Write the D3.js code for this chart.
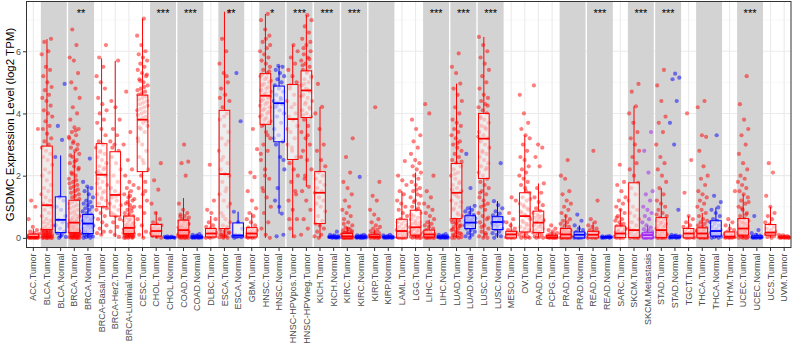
<!DOCTYPE html>
<html>
<head>
<meta charset="utf-8">
<script src="https://cdn.jsdelivr.net/npm/d3@7"></script>
<style>
  body { margin: 0; background: #fff; }
  text { font-family: "Liberation Sans", Arial, sans-serif; }
</style>
</head>
<body>
<script>
// Categories (x axis)
const categories = [
  "ACC.Tumor", "BLCA.Tumor", "BLCA.Normal", "BRCA.Tumor", "BRCA.Normal",
  "BRCA-Basal.Tumor", "BRCA-Her2.Tumor", "BRCA-Luminal.Tumor", "CESC.Tumor",
  "CHOL.Tumor", "CHOL.Normal", "COAD.Tumor", "COAD.Normal", "DLBC.Tumor",
  "ESCA.Tumor", "ESCA.Normal", "GBM.Tumor", "HNSC.Tumor", "HNSC.Normal",
  "HNSC-HPVpos.Tumor", "HNSC-HPVneg.Tumor", "KICH.Tumor", "KICH.Normal",
  "KIRC.Tumor", "KIRC.Normal", "KIRP.Tumor", "KIRP.Normal", "LAML.Tumor",
  "LGG.Tumor", "LIHC.Tumor", "LIHC.Normal", "LUAD.Tumor", "LUAD.Normal",
  "LUSC.Tumor", "LUSC.Normal", "MESO.Tumor", "OV.Tumor", "PAAD.Tumor",
  "PCPG.Tumor", "PRAD.Tumor", "PRAD.Normal", "READ.Tumor", "READ.Normal",
  "SARC.Tumor", "SKCM.Tumor", "SKCM.Metastasis", "STAD.Tumor", "STAD.Normal",
  "TGCT.Tumor", "THCA.Tumor", "THCA.Normal", "THYM.Tumor", "UCEC.Tumor",
  "UCEC.Normal", "UCS.Tumor", "UVM.Tumor"
];

// Box statistics (log2 TPM)
const whiskerLow = [0,0,0,0,0,0.1,0.03,0,0,0,0,0,0,0,0,0,0,0,0.78,0,1.64,0,0,0,0,0,0,0,0,0,0,0,0,0,0,0,0,0,0,0,0,0,0,0,0,0,0,0,0,0,0,0,0,0,0,0];
const q1 = [0.01,0.27,0.17,0.17,0.14,1.0,0.70,0.14,2.13,0.06,0,0.09,0,0.03,0.30,0.03,0.03,3.65,3.09,2.52,3.87,0.46,0,0,0,0.01,0,0,0.09,0.03,0,0.62,0.30,1.91,0.27,0,0.19,0.17,0,0,0,0,0,0.01,0.01,0,0.01,0,0,0,0.06,0,0.09,0,0.09,0];
const medians = [0.03,1.05,0.58,0.49,0.46,2.03,1.38,0.32,3.80,0.22,0.01,0.25,0.02,0.14,2.05,0.08,0.14,4.57,4.33,3.82,4.74,1.45,0.02,0.05,0.02,0.04,0.02,0.22,0.34,0.11,0.02,1.45,0.49,3.19,0.51,0.11,0.70,0.49,0.02,0.11,0.10,0.10,0.02,0.14,0.25,0.09,0.25,0.02,0.14,0.14,0.22,0.04,0.30,0.02,0.17,0.02];
const q3 = [0.12,2.95,1.32,1.21,0.75,3.03,2.77,0.70,4.59,0.43,0.03,0.57,0.05,0.30,4.10,0.48,0.33,5.28,4.88,4.93,5.37,2.13,0.05,0.14,0.05,0.10,0.05,0.60,0.89,0.25,0.05,2.39,0.71,4.00,0.68,0.21,1.45,0.86,0.08,0.30,0.19,0.21,0.04,0.38,1.77,0.16,0.65,0.06,0.30,0.32,0.55,0.19,0.62,0.06,0.43,0.05];
const whiskerHigh = [0.28,6.39,2.65,2.77,1.64,5.77,5.69,1.5,7.05,0.84,0.05,1.28,0.12,0.7,7.27,0.84,0.8,7.2,5.53,6.2,7.16,4.21,0.1,0.35,0.1,0.25,0.1,1.5,2.1,0.58,0.12,4.96,1.03,6.46,1.18,0.5,3.3,1.75,0.2,0.75,0.4,0.5,0.06,0.93,4.23,0.4,1.6,0.12,0.7,0.8,0.98,0.45,1.4,0.15,1.0,0.1];

// Sample points per category
const pointValues = [
  [0,0,0,0,0,0.01,0.01,0.01,0.02,0.02,0.02,0.03,0.03,0.04,0.04,0.05,0.06,0.07,0.08,0.1,0.12,0.15,0.2,0.25,0.35,0.6,1.0,1.2,3.5],
  [0,0,0,0,0,0,0.02,0.03,0.05,0.06,0.08,0.1,0.12,0.15,0.18,0.2,0.22,0.25,0.28,0.3,0.35,0.4,0.45,0.5,0.55,0.6,0.7,0.8,0.9,1.0,1.05,1.1,1.2,1.3,1.4,1.5,1.6,1.7,1.85,2.0,2.1,2.2,2.35,2.5,2.6,2.7,2.8,2.9,3.0,3.1,3.2,3.35,3.5,3.6,3.75,3.9,4.0,4.1,4.25,4.4,4.5,4.6,4.75,4.85,5.0,5.2,5.4,5.5,5.9,6.0,6.3,6.4,0.01,0.04,0.07,0.09,0.11,0.14,0.16,0.19,0.23,0.26],
  [0,0.03,0.1,0.15,0.2,0.3,0.4,0.5,0.58,0.7,0.9,1.0,1.2,1.3,2.6,3.15,3.6,4.95,0.05],
  [0,0,0,0,0,0,0.01,0.02,0.03,0.04,0.05,0.06,0.07,0.08,0.09,0.1,0.11,0.12,0.14,0.15,0.17,0.19,0.2,0.22,0.25,0.28,0.3,0.33,0.36,0.4,0.43,0.46,0.5,0.55,0.6,0.65,0.7,0.75,0.8,0.9,1.0,1.1,1.2,1.3,1.4,1.5,1.6,1.7,1.8,1.9,2.0,2.1,2.2,2.3,2.4,2.5,2.6,2.7,2.8,2.9,3.0,3.1,3.2,3.3,3.4,3.5,3.55,3.8,4.0,4.2,4.5,4.8,5.0,5.3,5.7,5.8,6.2,6.7,0.13,0.16,0.18,0.24,0.35,0.45,0.52,0.58,0.68,0.85,0.95,1.05,1.15,1.25,1.35,1.45,1.55,1.65,1.75,1.85,2.05,2.25,2.45,2.65,2.85,3.05,3.25,3.45],
  [0,0,0.02,0.04,0.06,0.08,0.1,0.12,0.14,0.16,0.2,0.24,0.28,0.3,0.34,0.38,0.4,0.44,0.46,0.5,0.52,0.55,0.6,0.62,0.65,0.7,0.72,0.75,0.8,0.85,0.9,0.95,1.0,1.05,1.1,1.15,1.2,1.3,1.4,1.5,1.6,1.65,1.8,2.55,0.18,0.35,0.42,0.48,0.58,0.68],
  [0.1,0.15,0.2,0.3,0.4,0.5,0.6,0.7,0.8,0.9,1.0,1.1,1.2,1.3,1.4,1.5,1.6,1.7,1.8,1.9,2.0,2.05,2.1,2.2,2.3,2.4,2.5,2.6,2.7,2.8,2.9,3.0,3.1,3.3,3.5,3.7,3.8,4.0,4.1,4.3,4.5,4.8,5.0,5.2,5.5,5.8,6.2,1.25,1.75,2.25,2.75,0.95,1.45,2.15],
  [0.03,0.1,0.2,0.35,0.5,0.6,0.7,0.8,0.9,1.0,1.1,1.2,1.3,1.4,1.5,1.6,1.8,2.0,2.2,2.4,2.6,2.8,3.0,3.1,3.3,3.5,3.8,4.2,4.4,5.7,0.75,1.05,1.35,2.9],
  [0,0,0,0,0.02,0.04,0.06,0.08,0.1,0.12,0.14,0.16,0.18,0.2,0.22,0.25,0.28,0.3,0.32,0.35,0.38,0.4,0.45,0.5,0.55,0.6,0.65,0.7,0.75,0.8,0.85,0.9,1.0,1.05,1.1,1.2,1.3,1.4,1.5,1.6,1.7,1.8,2.0,2.2,2.5,3.0,3.4,4.7,0.03,0.05,0.07,0.09,0.11,0.13,0.15,0.17,0.19,0.24,0.27,0.33,0.42,0.48,0.58,0.68,0.95,1.15,1.25,1.35],
  [0,0.1,0.2,0.4,0.6,0.8,1.0,1.2,1.4,1.6,1.8,2.0,2.2,2.4,2.6,2.8,3.0,3.2,3.4,3.5,3.6,3.7,3.8,3.9,4.0,4.1,4.2,4.3,4.4,4.5,4.6,4.7,4.8,4.9,5.0,5.1,5.2,5.3,5.4,5.5,5.6,5.7,5.8,5.9,6.0,6.2,6.5,7.05,3.55,3.75,3.85,3.95,4.05,4.15,4.25,4.35,4.45,4.55,4.65,4.75,4.85,5.05,5.25,2.5,3.1,1.5],
  [0,0.03,0.06,0.1,0.12,0.15,0.18,0.2,0.22,0.25,0.28,0.3,0.35,0.4,0.43,0.5,0.6,0.8,1.1,1.55,1.85,2.4,0.05,0.08],
  [0,0,0.01,0.01,0.02,0.02,0.03,0.04,0.05],
  [0,0,0,0,0.01,0.02,0.03,0.05,0.07,0.09,0.1,0.12,0.14,0.16,0.18,0.2,0.22,0.25,0.28,0.3,0.33,0.36,0.4,0.44,0.48,0.52,0.56,0.6,0.65,0.7,0.75,0.8,0.9,1.1,2.0,2.4,2.45,3.0,0.04,0.06,0.08,0.11,0.13,0.15,0.17,0.19,0.24,0.27,0.35,0.45,0.55,0.68],
  [0,0,0,0.01,0.01,0.02,0.02,0.03,0.03,0.04,0.05,0.06,0.08,0.1,0.12],
  [0,0,0.02,0.03,0.05,0.08,0.1,0.12,0.14,0.16,0.2,0.24,0.28,0.3,0.35,0.4,0.5,0.6,0.8,0.9,1.2,2.35],
  [0,0,0.02,0.05,0.1,0.15,0.2,0.25,0.3,0.4,0.5,0.6,0.8,1.0,1.2,1.4,1.6,1.8,2.0,2.05,2.2,2.4,2.6,2.8,3.0,3.2,3.4,3.6,3.8,4.0,4.2,4.4,4.6,4.8,5.0,5.3,5.6,6.0,6.4,7.27,0.08,0.12,0.35,0.7,1.1,1.5,2.5,3.1,3.9,4.5,5.2,0.03,0.18],
  [0,0.02,0.03,0.05,0.08,0.1,0.3,0.5,0.84,3.75,5.3],
  [0,0,0.01,0.02,0.03,0.05,0.07,0.1,0.12,0.14,0.17,0.2,0.24,0.28,0.33,0.4,0.5,0.6,0.7,0.8,0.95,1.2,1.5,1.95,2.1,2.85,3.5,0.04,0.08,0.15],
  [0,0.1,0.3,0.5,0.8,1.0,1.3,1.6,1.9,2.2,2.5,2.8,3.0,3.2,3.4,3.6,3.7,3.8,3.9,4.0,4.1,4.2,4.3,4.4,4.5,4.6,4.7,4.8,4.9,5.0,5.1,5.2,5.3,5.4,5.5,5.6,5.7,5.8,5.9,6.0,6.1,6.3,6.5,6.7,7.0,7.2,3.65,3.75,3.85,3.95,4.05,4.15,4.25,4.35,4.45,4.55,4.65,4.75,4.85,4.95,5.05,5.15,5.25,5.35,2.0,2.7,3.3,1.5,6.2,6.4],
  [0.05,0.1,1.0,1.2,0.78,1.6,2.2,2.6,3.0,3.1,3.3,3.5,3.7,3.9,4.0,4.1,4.2,4.3,4.35,4.4,4.5,4.6,4.7,4.8,4.9,5.0,5.1,5.2,5.3,5.4,5.5,5.53,3.2,4.45,4.25,2.5],
  [0.05,0.3,0.6,0.9,1.2,1.5,1.8,2.0,2.2,2.4,2.6,2.8,3.0,3.2,3.4,3.6,3.8,3.9,4.0,4.2,4.4,4.6,4.8,5.0,5.2,5.4,5.6,5.8,6.0,6.2,0.6,1.4,2.9,3.5,4.3,4.9],
  [0.1,0.3,0.6,0.9,1.2,1.5,1.64,1.9,2.2,2.5,2.8,3.0,3.2,3.4,3.6,3.8,3.9,4.0,4.1,4.2,4.3,4.4,4.5,4.6,4.7,4.8,4.9,5.0,5.1,5.2,5.3,5.4,5.5,5.6,5.7,5.8,5.9,6.0,6.2,6.4,6.6,6.8,7.0,7.16,3.95,4.15,4.35,4.55,4.75,4.95,5.15,5.35,5.55,5.75,2.0,2.6,3.3,6.1,6.3],
  [0,0.05,0.1,0.2,0.3,0.4,0.46,0.55,0.7,0.85,1.0,1.1,1.2,1.3,1.45,1.5,1.6,1.7,1.8,1.9,2.0,2.1,2.3,2.5,2.8,3.0,3.5,4.0,4.21,4.95],
  [0,0,0.01,0.01,0.02,0.02,0.03,0.03,0.04,0.05,0.06,0.08,0.1,0.2],
  [0,0,0,0,0,0,0.01,0.01,0.02,0.03,0.04,0.05,0.06,0.07,0.08,0.1,0.12,0.14,0.16,0.18,0.2,0.24,0.28,0.33,0.4,0.5,0.6,0.7,0.8,0.9,1.0,1.2,1.4,1.6,1.8,2.1,2.6,3.2,0.02,0.03,0.05,0.09,0.11,0.13,0.15,0.22,0.3,0.45],
  [0,0,0,0.01,0.01,0.01,0.02,0.02,0.03,0.03,0.04,0.05,0.06,0.07,0.08,0.1,1.96],
  [0,0,0,0,0.01,0.02,0.03,0.04,0.05,0.06,0.08,0.1,0.12,0.15,0.18,0.22,0.26,0.3,0.35,0.4,0.5,0.6,0.75,0.9,1.2,1.35,1.8,4.2],
  [0,0,0,0.01,0.01,0.02,0.02,0.03,0.04,0.05,0.06,0.08,0.1],
  [0,0,0,0,0.02,0.05,0.08,0.1,0.13,0.16,0.2,0.22,0.25,0.3,0.35,0.4,0.45,0.5,0.55,0.6,0.7,0.8,0.9,1.0,1.1,1.2,1.4,1.5,1.7,1.85,2.0,2.47],
  [0,0,0,0,0.02,0.04,0.06,0.09,0.12,0.15,0.2,0.25,0.3,0.34,0.4,0.45,0.5,0.55,0.6,0.65,0.7,0.8,0.89,1.0,1.1,1.2,1.3,1.4,1.5,1.6,1.7,1.8,1.9,2.0,2.1,2.2,2.3,2.4,2.5,2.7,2.9,3.1,3.3,3.5,3.8,0.08,0.1,0.18,0.22,0.28,0.38,0.48,0.75,0.95,1.15,1.35,1.55],
  [0,0,0,0,0.01,0.02,0.03,0.04,0.05,0.07,0.09,0.11,0.13,0.15,0.18,0.2,0.25,0.3,0.35,0.4,0.45,0.5,0.6,0.7,0.8,0.9,1.0,1.1,1.3,1.5,2.0,4.0,4.3,0.06,0.08,0.12,0.16,0.22],
  [0,0,0,0.01,0.01,0.02,0.02,0.03,0.04,0.05,0.06,0.08,0.1,0.12],
  [0,0,0,0.02,0.05,0.1,0.15,0.2,0.25,0.3,0.35,0.4,0.45,0.5,0.55,0.6,0.7,0.8,0.9,1.0,1.1,1.2,1.3,1.4,1.5,1.6,1.7,1.8,1.9,2.0,2.1,2.2,2.3,2.4,2.5,2.6,2.7,2.8,2.9,3.0,3.1,3.2,3.3,3.4,3.5,3.6,3.7,3.8,4.0,4.2,4.4,4.6,4.8,4.96,5.3,5.5,5.93,0.08,0.12,0.18,0.28,0.38,0.48,0.58,0.75,0.95,1.15,1.35,1.55,1.75,2.05,2.45,3.05],
  [0,0.05,0.1,0.15,0.2,0.25,0.3,0.33,0.36,0.4,0.43,0.46,0.49,0.52,0.55,0.58,0.6,0.63,0.66,0.7,0.73,0.8,0.85,0.9,0.95,1.03,1.6,2.7,0.38,0.45,0.5,0.56,0.62,0.68],
  [0,0,0.05,0.1,0.2,0.3,0.4,0.5,0.6,0.7,0.8,0.9,1.0,1.1,1.2,1.3,1.4,1.5,1.6,1.7,1.8,1.9,2.0,2.1,2.2,2.3,2.4,2.5,2.6,2.7,2.8,2.9,3.0,3.1,3.2,3.3,3.4,3.5,3.6,3.7,3.8,3.9,4.0,4.1,4.2,4.3,4.4,4.5,4.6,4.8,5.0,5.2,5.4,5.6,5.8,6.0,6.2,6.46,0.15,0.35,0.65,1.05,1.45,2.25,2.75,3.25,3.55,3.85,4.25],
  [0,0.05,0.1,0.15,0.2,0.27,0.3,0.35,0.4,0.45,0.5,0.52,0.55,0.6,0.64,0.68,0.72,0.78,0.85,0.95,1.05,1.18,2.4,0.42,0.48,0.58],
  [0,0,0,0.01,0.02,0.04,0.06,0.08,0.1,0.11,0.13,0.15,0.18,0.21,0.25,0.3,0.4,0.5,0.6,0.8,1.2,1.3],
  [0,0,0,0.03,0.06,0.1,0.15,0.19,0.25,0.3,0.35,0.4,0.5,0.6,0.7,0.8,0.9,1.0,1.1,1.2,1.3,1.45,1.6,1.7,1.8,1.9,2.0,2.1,2.2,2.3,2.5,2.6,2.8,3.0,3.2,3.3,3.5,3.7,4.0,4.6,0.45,0.55,0.65,0.75,0.85,0.95,1.05,1.25,1.5],
  [0,0,0.02,0.05,0.1,0.15,0.17,0.2,0.25,0.3,0.35,0.4,0.45,0.49,0.55,0.6,0.65,0.7,0.75,0.8,0.86,0.95,1.05,1.15,1.3,1.45,1.6,1.75,2.3,2.6,2.9,3.0,4.9,0.38,0.52,0.58,0.68],
  [0,0,0,0,0.01,0.01,0.02,0.02,0.03,0.04,0.05,0.06,0.08,0.1,0.12,0.15,0.2,0.25,0.3,0.4],
  [0,0,0,0,0,0.01,0.02,0.03,0.05,0.07,0.09,0.11,0.13,0.15,0.18,0.2,0.23,0.26,0.3,0.35,0.4,0.45,0.5,0.55,0.6,0.7,0.8,0.9,1.0,1.1,1.2,1.4,1.5,1.9,2.0,2.5,0.04,0.06,0.08,0.12,0.16,0.24],
  [0,0,0,0.01,0.02,0.03,0.05,0.07,0.1,0.12,0.15,0.19,0.25,0.3,0.4,0.55,0.75],
  [0,0,0,0.01,0.03,0.05,0.07,0.1,0.12,0.15,0.18,0.21,0.25,0.3,0.35,0.4,0.5,0.6,1.2,2.8],
  [0,0,0.01,0.01,0.02,0.02,0.03,0.04,0.05,0.06],
  [0,0,0,0.01,0.03,0.06,0.09,0.12,0.14,0.17,0.2,0.25,0.3,0.35,0.38,0.45,0.5,0.55,0.6,0.7,0.8,0.9,1.0,1.1,1.2,1.3,1.5,1.7,1.8,2.35,0.08,0.16,0.22,0.28,0.42,0.65],
  [0,0,0,0.01,0.03,0.06,0.1,0.15,0.2,0.25,0.3,0.4,0.5,0.6,0.7,0.8,0.9,1.0,1.2,1.4,1.6,1.77,2.0,2.2,2.4,2.6,2.8,3.0,3.2,3.4,3.7,4.0,4.23,4.7,4.95],
  [0,0,0,0,0,0.01,0.02,0.03,0.05,0.07,0.09,0.11,0.13,0.16,0.2,0.24,0.28,0.33,0.4,0.5,0.6,0.7,0.8,0.9,1.0,1.2,1.4,1.5,2.1,2.8,3.4,0.04,0.06,0.08,0.1,0.14],
  [0,0,0,0,0.01,0.03,0.06,0.1,0.14,0.18,0.22,0.25,0.3,0.35,0.4,0.45,0.5,0.55,0.6,0.65,0.7,0.8,0.9,1.0,1.1,1.2,1.4,1.6,1.8,2.0,2.2,2.4,2.6,3.0,3.4,3.7,3.9,4.4,4.9,5.4,0.08,0.12,0.2,0.28,0.38,0.48,0.75],
  [0,0,0.01,0.01,0.02,0.03,0.04,0.05,0.06,0.08,0.1,0.9,3.0,3.7,4.4,5.1,5.15,5.28],
  [0,0,0,0.01,0.02,0.04,0.06,0.08,0.1,0.13,0.16,0.2,0.25,0.3,0.35,0.4,0.5,0.6,0.7,1.45,2.5,4.0],
  [0,0,0,0,0.01,0.02,0.04,0.06,0.08,0.1,0.12,0.14,0.16,0.18,0.2,0.23,0.26,0.3,0.32,0.36,0.4,0.45,0.5,0.55,0.6,0.7,0.8,0.9,1.0,1.1,1.2,1.3,1.4,1.5,1.7,1.9,2.0,2.3,2.8,3.25,3.3,4.2,4.4,0.03,0.05,0.07,0.09,0.11,0.13,0.22,0.28],
  [0,0,0.02,0.04,0.06,0.08,0.1,0.13,0.16,0.2,0.22,0.25,0.3,0.35,0.4,0.45,0.5,0.55,0.6,0.7,0.8,0.9,0.98,1.35,1.15,3.3],
  [0,0,0,0.01,0.02,0.03,0.05,0.07,0.1,0.12,0.15,0.2,0.25,0.3,0.4,0.5,0.6,1.5],
  [0,0,0,0,0.02,0.04,0.06,0.09,0.12,0.15,0.18,0.2,0.25,0.3,0.35,0.4,0.45,0.5,0.55,0.62,0.7,0.8,0.9,1.0,1.1,1.2,1.3,1.4,1.5,1.6,1.7,1.8,1.9,2.0,2.2,2.4,2.7,3.0,3.3,3.5,3.8,4.3,5.2,0.08,0.1,0.22,0.28,0.38,0.48,0.58,0.75,0.95,1.15],
  [0,0,0,0.01,0.01,0.02,0.03,0.04,0.05,0.07,0.1,0.15,0.25,0.7],
  [0,0.03,0.06,0.09,0.12,0.15,0.17,0.2,0.25,0.3,0.35,0.43,0.5,0.6,0.7,0.8,1.0,1.35,2.1,2.4],
  [0,0,0,0,0.01,0.01,0.02,0.02,0.03,0.04,0.05,0.06,0.08,0.1]
];

// Tumor / normal pairs shaded in gray
const shadedPairs = [
  ["BLCA.Tumor", "BLCA.Normal"], ["BRCA.Tumor", "BRCA.Normal"], ["CHOL.Tumor", "CHOL.Normal"],
  ["COAD.Tumor", "COAD.Normal"], ["ESCA.Tumor", "ESCA.Normal"], ["HNSC.Tumor", "HNSC.Normal"],
  ["HNSC-HPVpos.Tumor", "HNSC-HPVneg.Tumor"], ["KICH.Tumor", "KICH.Normal"], ["KIRC.Tumor", "KIRC.Normal"],
  ["KIRP.Tumor", "KIRP.Normal"], ["LIHC.Tumor", "LIHC.Normal"], ["LUAD.Tumor", "LUAD.Normal"],
  ["LUSC.Tumor", "LUSC.Normal"], ["PRAD.Tumor", "PRAD.Normal"], ["READ.Tumor", "READ.Normal"],
  ["SKCM.Tumor", "SKCM.Metastasis"], ["STAD.Tumor", "STAD.Normal"], ["THCA.Tumor", "THCA.Normal"],
  ["UCEC.Tumor", "UCEC.Normal"]
];

// Significance marks (placed over the pair starting at sigFirst)
const sigFirst = ["BRCA.Tumor", "CHOL.Tumor", "COAD.Tumor", "ESCA.Tumor", "HNSC.Tumor", "HNSC-HPVpos.Tumor",
  "KICH.Tumor", "KIRC.Tumor", "LIHC.Tumor", "LUAD.Tumor", "LUSC.Tumor", "READ.Tumor", "SKCM.Tumor",
  "STAD.Tumor", "UCEC.Tumor"];
const sigLabels = ["**", "***", "***", "**", "*", "***", "***", "***", "***", "***", "***", "***", "***", "***", "***"];

const yTicks = [0, 2, 4, 6];

// Layout
const W = 793, H = 349;
const panel = { left: 26.5, right: 791, top: 1.5, bottom: 247.5 };

const colorOf = name => name.endsWith("Normal") ? "#0000FF" : name.endsWith("Metastasis") ? "#A020F0" : "#FF0000";

const svg = d3.select("body").append("svg")
  .attr("width", W).attr("height", H);

svg.append("rect").attr("width", W).attr("height", H).attr("fill", "#fff");

const x = d3.scaleBand().domain(categories).range([panel.left, panel.right]).padding(0);
const step = x.bandwidth();
const cx = name => x(name) + step / 2;
const y = d3.scaleLinear().domain([-0.31, 7.6]).range([panel.bottom, panel.top]);

// Grid
const grid = svg.append("g");
grid.selectAll("line.minor").data([1, 3, 5, 7]).enter().append("line")
  .attr("x1", panel.left).attr("x2", panel.right)
  .attr("y1", d => y(d)).attr("y2", d => y(d))
  .attr("stroke", "#f2f2f2").attr("stroke-width", 0.6);
grid.selectAll("line.major").data(yTicks).enter().append("line")
  .attr("x1", panel.left).attr("x2", panel.right)
  .attr("y1", d => y(d)).attr("y2", d => y(d))
  .attr("stroke", "#ebebeb").attr("stroke-width", 1.1);
grid.selectAll("line.vert").data(categories).enter().append("line")
  .attr("x1", d => cx(d)).attr("x2", d => cx(d))
  .attr("y1", panel.top).attr("y2", panel.bottom)
  .attr("stroke", "#ebebeb").attr("stroke-width", 1.1);

// Gray backgrounds for the pairs
svg.append("g").selectAll("rect").data(shadedPairs).enter().append("rect")
  .attr("x", d => x(d[0]) + 0.7)
  .attr("width", d => x(d[1]) + step - x(d[0]) - 1.4)
  .attr("y", panel.top).attr("height", panel.bottom - panel.top)
  .attr("fill", "#d3d3d3");

// Jittered points
const pts = [];
categories.forEach((c, ci) => {
  pointValues[ci].forEach((v, i) => {
    const off = (((i + 1) * 0.6180339887 + ci * 0.37) % 1 - 0.5) * 0.8 * step;
    pts.push({ c, v, off });
  });
});
svg.append("g").selectAll("circle").data(pts).enter().append("circle")
  .attr("cx", d => cx(d.c) + d.off)
  .attr("cy", d => y(d.v))
  .attr("r", 2.1)
  .attr("fill", d => colorOf(d.c))
  .attr("fill-opacity", 0.5);

// Boxplots
const boxW = step * 0.78;
const boxes = svg.append("g").selectAll("g").data(categories).enter().append("g");
boxes.append("line")
  .attr("x1", d => cx(d)).attr("x2", d => cx(d))
  .attr("y1", (d, i) => y(q3[i])).attr("y2", (d, i) => y(whiskerHigh[i]))
  .attr("stroke", d => colorOf(d)).attr("stroke-width", 1);
boxes.append("line")
  .attr("x1", d => cx(d)).attr("x2", d => cx(d))
  .attr("y1", (d, i) => y(q1[i])).attr("y2", (d, i) => y(whiskerLow[i]))
  .attr("stroke", d => colorOf(d)).attr("stroke-width", 1);
boxes.append("rect")
  .attr("x", d => cx(d) - boxW / 2).attr("width", boxW)
  .attr("y", (d, i) => y(q3[i]))
  .attr("height", (d, i) => Math.max(0.5, y(q1[i]) - y(q3[i])))
  .attr("fill", "#fff").attr("fill-opacity", 0.6)
  .attr("stroke", d => colorOf(d)).attr("stroke-width", 1);
boxes.append("line")
  .attr("x1", d => cx(d) - boxW / 2).attr("x2", d => cx(d) + boxW / 2)
  .attr("y1", (d, i) => y(medians[i])).attr("y2", (d, i) => y(medians[i]))
  .attr("stroke", d => colorOf(d)).attr("stroke-width", 1.8);

// Significance stars
svg.append("g").selectAll("text").data(sigFirst).enter().append("text")
  .attr("x", d => x(d) + step)
  .attr("y", 17)
  .attr("text-anchor", "middle")
  .attr("font-size", 11)
  .attr("fill", "#000")
  .text((d, i) => sigLabels[i]);

// Panel border
svg.append("rect")
  .attr("x", panel.left).attr("y", panel.top)
  .attr("width", panel.right - panel.left).attr("height", panel.bottom - panel.top)
  .attr("fill", "none").attr("stroke", "#333").attr("stroke-width", 1);

// Y axis
const yAxis = svg.append("g").attr("transform", `translate(${panel.left},0)`)
  .call(d3.axisLeft(y).tickValues(yTicks).tickSize(3.5).tickPadding(2));
yAxis.select(".domain").remove();
yAxis.selectAll("line").attr("stroke", "#333");
yAxis.selectAll("text").attr("fill", "#4d4d4d").attr("font-size", 9)
  .attr("font-family", "Liberation Sans, Arial, sans-serif");

// X axis
const xAxis = svg.append("g").attr("transform", `translate(0,${panel.bottom})`)
  .call(d3.axisBottom(x).tickSize(3.5).tickPadding(2));
xAxis.select(".domain").remove();
xAxis.selectAll("line").attr("stroke", "#333");
xAxis.selectAll("text")
  .attr("fill", "#4d4d4d").attr("font-size", 9)
  .attr("font-family", "Liberation Sans, Arial, sans-serif")
  .attr("text-anchor", "end")
  .attr("transform", "rotate(-90)")
  .attr("x", -6).attr("y", 0).attr("dy", "0.35em");

// Y axis title
svg.append("text")
  .attr("transform", `translate(10,${(panel.top + panel.bottom) / 2}) rotate(-90)`)
  .attr("text-anchor", "middle")
  .attr("dy", "0.35em")
  .attr("font-size", 11.5)
  .attr("fill", "#000")
  .text("GSDMC Expression Level (log2 TPM)");
</script>
</body>
</html>
